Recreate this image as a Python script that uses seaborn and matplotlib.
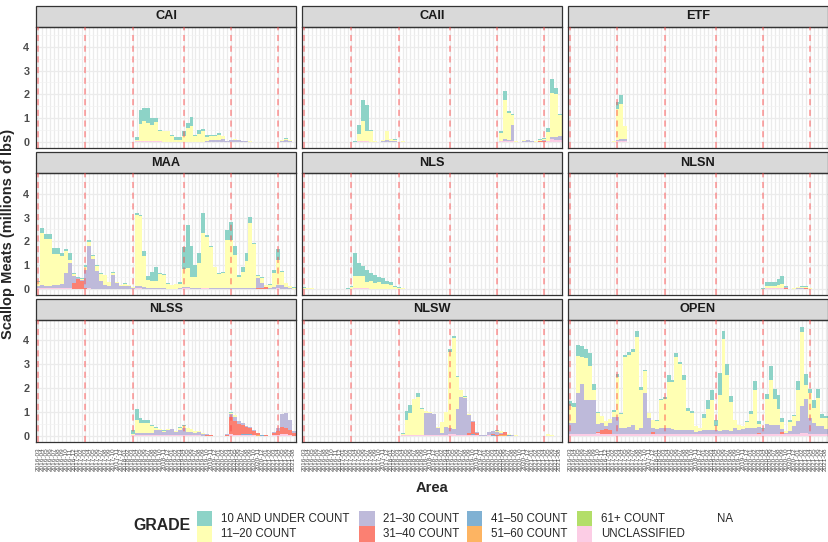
import numpy as np
import pandas as pd
import matplotlib
matplotlib.use("Agg")
import matplotlib.pyplot as plt
from matplotlib.patches import Rectangle
import seaborn as sns

# =========================
# DATA (millions of lbs)
# =========================

MONTHS = [str(p) for p in pd.period_range("2016-03", "2021-08", freq="M")]
FY_STARTS = ["2016-03", "2017-03", "2018-03", "2019-04", "2020-04", "2021-04"]

GRADES = ["10 AND UNDER COUNT", "11–20 COUNT", "21–30 COUNT", "31–40 COUNT",
          "41–50 COUNT", "51–60 COUNT", "61+ COUNT", "UNCLASSIFIED"]
COLORS = ["#8DD3C7", "#FFFFB3", "#BEBADA", "#FB8072",
          "#80B1D3", "#FDB462", "#B3DE69", "#FCCDE5"]
AREAS = ["CAI", "CAII", "ETF", "MAA", "NLS", "NLSN", "NLSS", "NLSW", "OPEN"]

# CAI, months 25..64
CAI_START = 25
CAI_U10 = [.13, .58, .55, .64, .27, .16, .05, .02, .02, .04,
           .12, .12, .21, .21, .38, .02, .14, .11, .06, .05,
           .05, .06, .02, 0, 0, .02, 0, 0, 0, 0,
           0, 0, 0, 0, 0, 0, 0, .02, .04, .01]
CAI_11_20 = [.04, .70, .82, .73, .68, .80, .44, .42, .42, .25,
             .06, .06, .22, .55, .64, .24, .33, .43, .18, .18,
             .18, .20, .12, .02, .01, .02, .01, .01, .01, .01,
             0, 0, 0, 0, 0, 0, .02, .03, .04, .03]
CAI_21_30 = [0, 0, 0, 0, 0, 0, 0, 0, 0, 0,
             0, 0, 0, 0, 0, 0, 0, 0, .03, .05,
             .05, .08, .10, .03, .07, .08, .06, .05, .03, .02,
             0, 0, 0, 0, 0, 0, 0, .04, .05, .03]
CAI_UNCL = [.05, .06, .06, .06, .06, .05, .04, .03, .03, .03,
            .03, .03, .03, .03, .03, .03, .03, .03, .03, .03,
            .03, .03, .03, .02, .02, .02, .02, .01, .01, .01,
            0, 0, 0, 0, 0, 0, 0, .02, .03, .02]

# CAII, months 13..65
CAII_START = 13
CAII_U10 = [.02, .39, .88, 1.06, .02, 0, 0, 0, 0, 0, .04, 0, 0, 0,
            0, 0, 0, 0, 0, 0, 0, 0, 0, 0, 0, 0, 0, 0, 0, 0, 0, 0, 0, 0, 0, 0, 0,
            .09, .39, .10, .05, 0, 0, 0, 0, 0, .02, .03, .04, .17, .60, .27, .04]
CAII_11_20 = [.02, .30, .83, .43, .45, .04, 0, .04, .40, .08, .03, .02, .04, 0,
              0, 0, 0, 0, 0, 0, 0, 0, 0, 0, 0, 0, 0, 0, 0, 0, 0, 0, 0, 0, 0, 0, 0,
              .33, 1.65, 1.13, .41, .02, 0, .04, 0, 0, .02, .03, .04, .35, 1.83, 1.80, .90]
CAII_21_30 = [0, 0, 0, 0, 0, 0, 0, .04, .05, .05, .05, 0, 0, .03,
              0, 0, 0, 0, 0, 0, 0, 0, 0, 0, 0, 0, 0, 0, 0, 0, 0, 0, 0, 0, 0, 0, 0,
              0, .07, .04, .68, .02, 0, .06, .06, .04, .03, .02, .03, .03, .10, .10, .15]
CAII_31_40 = [0, 0, 0, 0, 0, 0, 0, 0, 0, 0, 0, 0, 0, 0,
              0, 0, 0, 0, 0, 0, 0, 0, 0, 0, 0, 0, 0, 0, 0, 0, 0, 0, 0, 0, 0, 0, 0,
              0, 0, 0, 0, 0, 0, 0, 0, 0, 0, .02, .02, 0, 0, 0, 0]
CAII_UNCL = [.01, .05, .06, .06, .03, .01, 0, 0, .03, .02, 0, 0, 0, 0,
             0, 0, 0, 0, 0, 0, 0, 0, 0, 0, 0, 0, 0, 0, 0, 0, 0, 0, 0, 0, 0, 0, 0,
             .04, .05, .04, .05, 0, 0, 0, .02, 0, 0, .02, .03, .04, .12, .10, .10]

# ETF, months 11..14
ETF_START = 11
ETF_U10 = [0, .30, .40, 0]
ETF_11_20 = [.04, 1.30, 1.45, .55]
ETF_21_30 = [0, .03, .08, .10]
ETF_UNCL = [.01, .05, .05, .04]

# MAA, months 0..65
MAA_START = 0
MAA_U10 = [.03, .20, .23, .23, .24, .24, .16, .09, .27, .02,
           .02, .02, .05, .08, .06, .04, .02, .02, .02, .02,
           .02, .01, .03, .01, .02, .08, .03, .19, .17, .38,
           .59, .06, .03, .02, .01, .02, .05, .90, 1.80, 1.26,
           .49, .44, .84, .07, .02, .03, .05, .05, .39, .77,
           .35, .08, .21, .30, .25, .02, .03, .05, .02, .02,
           .15, .44, .05, .02, .02, .03]
MAA_11_20 = [.17, 2.20, 1.95, 1.95, 1.30, 1.30, 1.17, .90, .12, .10,
             .02, .04, .15, .17, .10, .20, .30, .42, .15, .08,
             .05, .05, .10, .05, .05, 2.95, 2.95, 1.30, .34, .31,
             .31, .60, .57, .20, .14, .17, .20, .76, .80, .47,
             .47, 1.03, 2.27, 2.13, 1.71, .86, .56, .62, 2.02, 1.99,
             1.38, .47, .68, 1.14, 2.73, 1.85, .10, .20, .05, .13,
             .55, 1.05, .55, .15, .08, .05]
MAA_21_30 = [.10, .12, .09, .09, .13, .13, .15, .63, 1.05, .30,
             .05, .05, .75, 1.75, 1.25, .75, .32, .13, .12, .58,
             .22, .10, .10, .10, .02, .10, .08, .06, .03, .03,
             .03, .02, .02, .01, .01, .01, .02, .05, .04, .03,
             .03, .03, .03, .03, .03, .03, .03, .04, .03, .04,
             .03, .02, .03, .03, .03, .03, .43, .22, .03, .03,
             .08, .14, .15, .08, .02, .01]
MAA_31_40 = [0, 0, 0, 0, 0, 0, 0, 0, .02, .22,
             .40, .33, .02, .02, 0, 0, 0, 0, 0, 0,
             0, 0, 0, 0, 0, 0, 0, 0, 0, 0,
             0, 0, 0, 0, 0, 0, 0, 0, 0, 0,
             0, 0, 0, 0, 0, 0, 0, 0, 0, 0,
             0, 0, 0, 0, 0, 0, .01, .03, .06, .01,
             0, 0, 0, 0, 0, 0]
MAA_UNCL = [.05, .05, .05, .05, .05, .05, .05, .05, .04, .03,
            .01, .02, .03, .04, .03, .03, .03, .03, .03, .03,
            .03, .02, .02, .02, .02, .05, .04, .03, .02, .02,
            .02, .02, .02, .02, .02, .02, .02, .05, .04, .03,
            .03, .03, .04, .04, .03, .03, .03, .03, .03, .03,
            .03, .03, .03, .03, .03, .03, .03, .03, .02, .02,
            .03, .04, .03, .03, .02, .01]

# NLS, months 0..26
NLS_START = 0
NLS_U10 = [.03, .02, .02, 0, 0, 0, 0, 0, 0, 0,
           0, .02, .05, .95, .55, .45, .50, .35, .30, .20,
           .25, .15, .12, .05, .03, .02, 0]
NLS_11_20 = [.05, .04, .03, 0, 0, 0, 0, 0, 0, 0,
             0, .02, .08, .50, .50, .50, .25, .32, .25, .28,
             .18, .18, .15, .08, .06, .03, .02]
NLS_UNCL = [.01, .01, .01, 0, 0, 0, 0, 0, 0, 0,
            0, .01, .02, .05, .04, .04, .04, .03, .03, .03,
            .03, .03, .02, .02, .01, .01, 0]

# NLSN, months 49..63
NLSN_START = 49
NLSN_U10 = [.02, .18, .18, .18, .25, .35, .02, 0, .02, .02, .03, .03, 0, 0, 0]
NLSN_11_20 = [.01, .10, .10, .10, .15, .16, .02, 0, .02, .04, .05, .07, .04, .03, 0]
NLSN_21_30 = [0, 0, 0, 0, 0, 0, .03, .01, 0, .02, .02, 0, 0, 0, .02]
NLSN_31_40 = [0, 0, 0, 0, 0, 0, .03, 0, 0, .02, 0, .02, 0, 0, 0]
NLSN_41_50 = [0, 0, 0, 0, 0, 0, .02, .02, 0, 0, 0, 0, 0, 0, 0]
NLSN_UNCL = [.02, .04, .04, .04, .04, .05, 0, 0, .02, 0, .02, .02, 0, 0, 0]

# NLSS, months 24..65
NLSS_START = 24
NLSS_U10 = [.15, .45, .20, .10, .12, .05, .02, .02, .02, .01,
            0, 0, .02, .03, .02, 0, 0, 0, 0, 0,
            0, 0, 0, 0, 0, .03, .02, 0, 0, 0,
            0, 0, 0, 0, 0, 0, 0, 0, 0, 0,
            0, 0]
NLSS_11_20 = [.05, .55, .45, .45, .40, .28, .10, .05, .04, .05,
              .03, .03, .12, .10, .15, .10, .08, .06, .05, 0,
              0, 0, 0, 0, 0, .05, .05, .03, 0, 0,
              0, 0, 0, 0, 0, 0, 0, 0, 0, 0,
              0, 0]
NLSS_21_30 = [0, .05, .06, .06, .08, .08, .20, .20, .15, .22,
              .25, .15, .20, .30, .15, .15, .10, .12, .06, .05,
              .03, 0, 0, 0, .03, .15, .20, .10, .08, .05,
              .05, .05, 0, 0, 0, 0, .05, .15, .55, .65,
              .40, .10]
NLSS_31_40 = [0, 0, 0, 0, 0, 0, 0, 0, 0, 0,
              0, 0, 0, 0, 0, 0, 0, 0, 0, .02,
              .02, 0, 0, 0, .05, .70, .55, .45, .35, .30,
              .25, .15, .05, .03, .02, 0, .10, .15, .30, .25,
              .20, .10]
NLSS_41_50 = [0, 0, 0, 0, 0, 0, 0, 0, 0, 0,
              0, 0, 0, 0, 0, 0, 0, 0, 0, 0,
              0, 0, 0, 0, 0, 0, 0, 0, .05, .04,
              .05, .03, .03, .02, 0, 0, 0, 0, 0, 0,
              0, 0]
NLSS_51_60 = [0, 0, 0, 0, 0, 0, 0, 0, 0, 0,
              0, 0, 0, 0, 0, 0, 0, 0, 0, 0,
              0, 0, 0, 0, 0, 0, 0, 0, 0, 0,
              0, 0, .02, 0, 0, 0, 0, 0, 0, 0,
              0, 0]
NLSS_UNCL = [.02, .05, .04, .04, .04, .03, .03, .03, .02, .02,
             .02, .02, .02, .02, .02, .02, .02, .02, .01, 0,
             0, 0, 0, 0, 0, .07, .05, .05, .04, .03,
             .03, .02, 0, 0, 0, 0, .02, .03, .08, .07,
             .05, 0]

# NLSW, months 25..63
NLSW_START = 25
NLSW_U10 = [.03, .38, .35, .02, .20, .03, .02, 0, 0, 0,
            0, 0, .12, .07, .02, .03, .02, .03, 0, 0,
            0, 0, 0, 0, .03, 0, 0, 0, 0, 0,
            0, 0, 0, 0, 0, 0, 0, .01, 0]
NLSW_11_20 = [.02, .62, .90, 1.48, 1.55, 1.06, .06, .03, .03, .02,
              .45, .62, 3.18, 3.80, 1.36, .30, .05, .05, 0, 0,
              0, .03, .02, .02, .06, .08, .03, .03, .02, .02,
              0, 0, 0, 0, 0, 0, 0, .05, .04]
NLSW_21_30 = [0, 0, 0, 0, 0, .02, .94, .92, .87, .28,
              .08, .32, .25, .22, 1.05, 1.55, 1.53, .72, .05, .02,
              .02, .02, .13, .10, .10, .05, 0, .02, .02, .01,
              0, 0, 0, 0, 0, 0, 0, .01, .01]
NLSW_31_40 = [0, 0, 0, 0, 0, 0, 0, 0, 0, .03,
              0, 0, 0, 0, 0, 0, 0, .10, .50, .10,
              .01, 0, 0, .06, .05, .05, .10, 0, 0, 0,
              0, 0, 0, 0, 0, 0, 0, 0, 0]
NLSW_41_50 = [0, 0, 0, 0, 0, 0, 0, 0, 0, 0,
              0, 0, 0, 0, 0, 0, 0, 0, .03, 0,
              0, 0, 0, .02, 0, 0, 0, .02, 0, 0,
              0, 0, 0, 0, 0, 0, 0, 0, 0]
NLSW_51_60 = [0, 0, 0, 0, 0, 0, 0, 0, 0, 0,
              0, 0, 0, 0, 0, 0, 0, 0, 0, 0,
              0, 0, 0, 0, 0, .02, .04, 0, 0, 0,
              0, 0, 0, 0, 0, 0, 0, 0, 0]
NLSW_61_PLUS = [.03, 0, 0, 0, 0, 0, 0, 0, 0, 0,
                0, 0, 0, 0, 0, 0, 0, 0, 0, 0,
                0, 0, 0, 0, 0, 0, 0, 0, 0, 0,
                0, 0, 0, 0, 0, 0, 0, 0, 0]
NLSW_UNCL = [.02, .05, .05, .05, .05, .03, .03, .03, .03, .02,
             .03, .04, .08, .07, .05, .05, .05, .03, .05, .02,
             0, 0, .02, 0, 0, 0, 0, 0, 0, 0,
             0, 0, 0, 0, 0, 0, 0, 0, 0]

# OPEN, months 0..65
OPEN_START = 0
OPEN_U10 = [.20, .16, .44, .45, .35, .53, .28, .05, 0, 0,
            0, .07, .11, .05, .10, .11, .14, .25, .11, .07,
            0, 0, .05, .05, .07, .28, .11, .19, .07, .21,
            .14, .07, 0, 0, .14, .41, .41, .28, .91, .35,
            .50, .25, 0, 0, 0, .04, .16, .35, .11, .05,
            .18, .56, .42, .62, .15, 0, .07, .07, .35, .21,
            .46, .17, .34, .38, .14, .10]
OPEN_11_20 = [.70, .67, 1.54, 1.16, 1.75, 1.40, .39, .44, .26, .18,
              .15, .21, 1.67, .58, 2.97, 3.00, 3.06, 3.90, 1.60, .91,
              .21, .32, .32, 1.16, 1.23, 1.91, 1.96, 3.04, 2.78, 2.09,
              .77, .75, .22, .15, .49, .84, 1.23, .14, 1.53, 3.79,
              2.26, 1.21, .32, .21, .12, .24, .56, 1.60, .14, 0,
              1.07, 1.88, 1.07, .67, .31, .07, .39, .39, 1.32, 3.06,
              .59, 1.04, .63, 1.18, .35, .45]
OPEN_21_30 = [.46, .46, 1.71, 2.06, 1.43, 1.43, 1.43, .36, .30, .12,
              .30, .72, .72, .24, .25, .30, .35, .18, .25, 1.71,
              .67, .20, .20, .25, .25, .25, .20, .18, .15, .18,
              .18, .15, .10, .10, .18, .18, .18, .18, .11, .18,
              .18, .11, .25, .18, .20, .25, .25, .25, .25, .20,
              .39, .39, .39, .35, .13, .04, .10, .35, .53, 1.16,
              1.43, .67, .46, .32, .32, .20]
OPEN_31_40 = [0, 0, 0, 0, 0, 0, 0, .05, .17, .22,
              .17, 0, 0, 0, 0, 0, 0, 0, 0, 0,
              0, .07, 0, 0, 0, 0, 0, 0, 0, 0,
              0, 0, 0, 0, 0, 0, 0, 0, 0, 0,
              0, 0, 0, 0, 0, 0, 0, 0, .03, 0,
              0, 0, 0, 0, .07, 0, 0, 0, 0, 0,
              0, 0, 0, 0, 0, 0]
OPEN_UNCL = [.08, .08, .09, .09, .08, .08, .08, .10, .08, .08,
             .08, .07, .08, .08, .07, .08, .08, .07, .08, .08,
             .08, .07, .08, .07, .07, .08, .08, .07, .07, .08,
             .08, .07, .07, .08, .08, .08, .08, .07, .08, .08,
             .08, .08, .08, .07, .07, .08, .08, .07, .08, .08,
             .09, .08, .08, .08, .07, .08, .08, .07, .08, .10,
             .10, .09, .08, .08, .08, .08]

PANELS = {
    "CAI": (CAI_START, [CAI_U10, CAI_11_20, CAI_21_30, None, None, None, None, CAI_UNCL]),
    "CAII": (CAII_START, [CAII_U10, CAII_11_20, CAII_21_30, CAII_31_40, None, None, None, CAII_UNCL]),
    "ETF": (ETF_START, [ETF_U10, ETF_11_20, ETF_21_30, None, None, None, None, ETF_UNCL]),
    "MAA": (MAA_START, [MAA_U10, MAA_11_20, MAA_21_30, MAA_31_40, None, None, None, MAA_UNCL]),
    "NLS": (NLS_START, [NLS_U10, NLS_11_20, None, None, None, None, None, NLS_UNCL]),
    "NLSN": (NLSN_START, [NLSN_U10, NLSN_11_20, NLSN_21_30, NLSN_31_40, NLSN_41_50, None, None, NLSN_UNCL]),
    "NLSS": (NLSS_START, [NLSS_U10, NLSS_11_20, NLSS_21_30, NLSS_31_40, NLSS_41_50, NLSS_51_60, None, NLSS_UNCL]),
    "NLSW": (NLSW_START, [NLSW_U10, NLSW_11_20, NLSW_21_30, NLSW_31_40, NLSW_41_50, NLSW_51_60, NLSW_61_PLUS, NLSW_UNCL]),
    "OPEN": (OPEN_START, [OPEN_U10, OPEN_11_20, OPEN_21_30, OPEN_31_40, None, None, None, OPEN_UNCL]),
}

# =========================
# LONG TABLE
# =========================

rows = []
for area, (start, series) in PANELS.items():
    for grade, vals in zip(GRADES, series):
        if vals is None:
            continue
        for k, v in enumerate(vals):
            rows.append((area, start + k, grade, v))

df = pd.DataFrame(rows, columns=["area", "month", "grade", "meats"])
full = pd.MultiIndex.from_product([AREAS, range(len(MONTHS)), GRADES],
                                  names=["area", "month", "grade"])
df = df.groupby(["area", "month", "grade"])["meats"].sum().reindex(full, fill_value=0).reset_index()

palette = dict(zip(GRADES, COLORS))
fy_idx = [MONTHS.index(m) for m in FY_STARTS]

# =========================
# FIGURE
# =========================

sns.set_style("white")
plt.rcParams["font.family"] = ["Liberation Sans", "DejaVu Sans"]

W, H = 829, 542
fig = plt.figure(figsize=(W / 100, H / 100), dpi=100)

col_left = [36, 302, 568]
row_top = [26.5, 173.5, 320.0]
pw, ph = 260, 121.5
strip_h = 21

for n, area in enumerate(AREAS):
    r, c = divmod(n, 3)
    ax = fig.add_axes([col_left[c] / W, 1 - (row_top[r] + ph) / H, pw / W, ph / H])

    sns.histplot(
        data=df[df["area"] == area],
        x="month",
        weights="meats",
        hue="grade",
        hue_order=GRADES,
        palette=palette,
        multiple="stack",
        discrete=True,
        shrink=1,
        alpha=1,
        linewidth=0,
        legend=False,
        ax=ax
    )

    for i in fy_idx:
        ax.axvline(i, color="#FF4040", alpha=0.55, lw=1.1,
                   linestyle=(0, (4, 3)), zorder=3)

    ax.set_xlim(-0.6, len(MONTHS) - 0.4)
    ax.set_ylim(-0.24, 4.84)
    ax.set_xticks(range(len(MONTHS)))
    ax.set_yticks([0, 1, 2, 3, 4])
    ax.set_yticks([0.5, 1.5, 2.5, 3.5, 4.5], minor=True)
    ax.set_axisbelow(True)
    ax.grid(which="major", color="#EBEBEB", lw=0.9)
    ax.grid(which="minor", axis="y", color="#F2F2F2", lw=0.5)
    ax.set_xlabel("")
    ax.set_ylabel("")

    for sp in ax.spines.values():
        sp.set_color("#333333")
        sp.set_linewidth(0.9)

    ax.tick_params(which="minor", length=0)
    ax.tick_params(axis="both", which="major", color="#333333", length=2.7, width=0.6)

    if c == 0:
        ax.set_yticklabels(["0", "1", "2", "3", "4"], fontsize=7.8,
                           fontweight="bold", color="#4D4D4D")
        ax.tick_params(axis="y", pad=2)
    else:
        ax.tick_params(axis="y", left=False, labelleft=False)

    if r == 2:
        ax.set_xticklabels(MONTHS, rotation=90, fontsize=4.6, color="#4D4D4D")
        ax.tick_params(axis="x", pad=1.5)
    else:
        ax.tick_params(axis="x", bottom=False, labelbottom=False)

    # facet strip
    sh = strip_h / ph
    ax.add_patch(Rectangle((0, 1), 1, sh, transform=ax.transAxes, clip_on=False,
                           facecolor="#D9D9D9", edgecolor="#333333", lw=0.9))
    ax.text(0.5, 1 + sh / 2, area, transform=ax.transAxes, ha="center", va="center",
            fontsize=9.2, fontweight="bold", color="#1A1A1A")

# axis titles
fig.text(8 / W, 1 - 234 / H, "Scallop Meats (millions of lbs)", rotation=90,
         ha="center", va="center", fontsize=10.5, fontweight="bold")
fig.text(432 / W, 1 - 488 / H, "Area", ha="center", va="center",
         fontsize=10.5, fontweight="bold")

# legend
fig.text(133 / W, 1 - 526 / H, "GRADE", ha="left", va="center",
         fontsize=11.4, fontweight="bold")
key_x = [197, 359, 467, 577]
key_y = [511, 526]
key = 15.5
for g, (grade, color) in enumerate(zip(GRADES, COLORS)):
    cx, ry = divmod(g, 2)
    x0, y0 = key_x[cx], key_y[ry]
    fig.add_artist(Rectangle((x0 / W, 1 - (y0 + key) / H), key / W, key / H,
                             transform=fig.transFigure, facecolor=color, edgecolor="none"))
    fig.text((x0 + 24) / W, 1 - (y0 + key / 2) / H, grade, ha="left", va="center",
             fontsize=8.3)
fig.text(717 / W, 1 - (key_y[0] + key / 2) / H, "NA", ha="left", va="center", fontsize=8.3)

fig.savefig("out.png", dpi=100)
